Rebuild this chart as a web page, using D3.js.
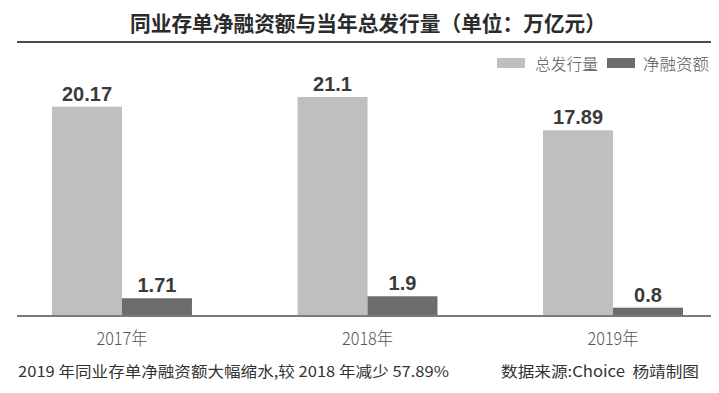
<!DOCTYPE html>
<html><head><meta charset="utf-8">
<script src="https://cdn.jsdelivr.net/npm/d3@7/dist/d3.min.js"></script>
<style>
html,body{margin:0;padding:0;background:#fff;}
svg{display:block;}
</style></head>
<body>
<svg id="c" width="719" height="393"></svg>
<script>
const categories = ["2017年", "2018年", "2019年"];
const seriesNames = ["总发行量", "净融资额"];
const totalIssuance = [20.17, 21.1, 17.89];
const netFinancing = [1.71, 1.9, 0.8];
const valueLabels = [["20.17", "1.71"], ["21.1", "1.9"], ["17.89", "0.8"]];
const titleText = "同业存单净融资额与当年总发行量（单位：万亿元）";
const noteText = "2019\u00a0年同业存单净融资额大幅缩水,较\u00a02018\u00a0年减少\u00a057.89%";
const sourceText = "数据来源:Choice\u00a0\u00a0杨靖制图";

const colors = {"总发行量": "#bfbfc0", "净融资额": "#6c6c6f"};
const cjk = "'Noto Sans CJK SC', 'Noto Sans', sans-serif";
const latin = "'Liberation Sans', Arial, 'Noto Sans CJK SC', sans-serif";

const svg = d3.select("#c");
const baseY = 316;

const x = d3.scaleBand().domain(categories).range([52, 683]).paddingInner(0.43).paddingOuter(0);
const xs = d3.scaleBand().domain(seriesNames).range([0, x.bandwidth()]).padding(0);
const y = d3.scaleLinear().domain([0, 21.1]).range([baseY, 97]);

// Title
svg.append("text").attr("x", 368).attr("y", 22)
  .attr("text-anchor", "middle").attr("dominant-baseline", "central")
  .attr("font-family", cjk).attr("font-weight", "bold").attr("font-size", 21)
  .attr("fill", "#2b2b2b").attr("textLength", 476).attr("lengthAdjust", "spacingAndGlyphs")
  .text(titleText);
svg.append("line").attr("x1", 17).attr("x2", 711).attr("y1", 42).attr("y2", 42)
  .attr("stroke", "#4a4a4a").attr("stroke-width", 2);

// Legend
const legendItems = [
  {name: seriesNames[0], sx: 497, tx: 535, tw: 63},
  {name: seriesNames[1], sx: 607, tx: 643, tw: 66}
];
const lg = svg.append("g");
legendItems.forEach(d => {
  lg.append("rect").attr("x", d.sx).attr("y", 58).attr("width", 28).attr("height", 10)
    .attr("fill", colors[d.name]);
  lg.append("text").attr("x", d.tx).attr("y", 63).attr("dominant-baseline", "central")
    .attr("font-family", cjk).attr("font-weight", 300).attr("font-size", 16).attr("fill", "#555")
    .attr("textLength", d.tw).attr("lengthAdjust", "spacingAndGlyphs")
    .text(d.name);
});

// Data rows
const rows = categories.map((c, i) => ({
  cat: c,
  vals: [
    {s: seriesNames[0], v: totalIssuance[i], label: valueLabels[i][0]},
    {s: seriesNames[1], v: netFinancing[i], label: valueLabels[i][1]}
  ]
}));

const groups = svg.append("g").selectAll("g").data(rows).join("g")
  .attr("transform", d => `translate(${x(d.cat)},0)`);

groups.selectAll("rect").data(d => d.vals).join("rect")
  .attr("x", d => xs(d.s)).attr("width", xs.bandwidth())
  .attr("y", d => y(d.v)).attr("height", d => baseY - y(d.v))
  .attr("fill", d => colors[d.s]);

groups.selectAll("text.val").data(d => d.vals).join("text").attr("class", "val")
  .attr("x", d => xs(d.s) + xs.bandwidth() / 2).attr("y", d => y(d.v) - 6)
  .attr("text-anchor", "middle")
  .attr("font-family", latin).attr("font-weight", "bold").attr("font-size", 20)
  .attr("fill", "#3a3a3a")
  .text(d => d.label);

// Axis
const axis = svg.append("g").attr("transform", `translate(0,${baseY})`)
  .call(d3.axisBottom(x).tickSize(0).tickPadding(0));
axis.select(".domain").remove();
axis.append("line").attr("x1", 17).attr("x2", 711).attr("y1", 0).attr("y2", 0)
  .attr("stroke", "#7a7a7a").attr("stroke-width", 2);
axis.selectAll(".tick text")
  .attr("y", 21).attr("dy", null).attr("dominant-baseline", "central")
  .attr("font-family", cjk).attr("font-weight", 300).attr("font-size", 18).attr("fill", "#555")
  .attr("textLength", 51).attr("lengthAdjust", "spacingAndGlyphs");

// Footer
svg.append("text").attr("x", 18).attr("y", 370).attr("dominant-baseline", "central")
  .attr("font-family", cjk).attr("font-size", 15).attr("fill", "#333")
  .attr("textLength", 431).attr("lengthAdjust", "spacingAndGlyphs")
  .text(noteText);
svg.append("text").attr("x", 501).attr("y", 370).attr("dominant-baseline", "central")
  .attr("font-family", cjk).attr("font-size", 15).attr("fill", "#333")
  .attr("textLength", 198).attr("lengthAdjust", "spacingAndGlyphs")
  .text(sourceText);
</script>
</body></html>
